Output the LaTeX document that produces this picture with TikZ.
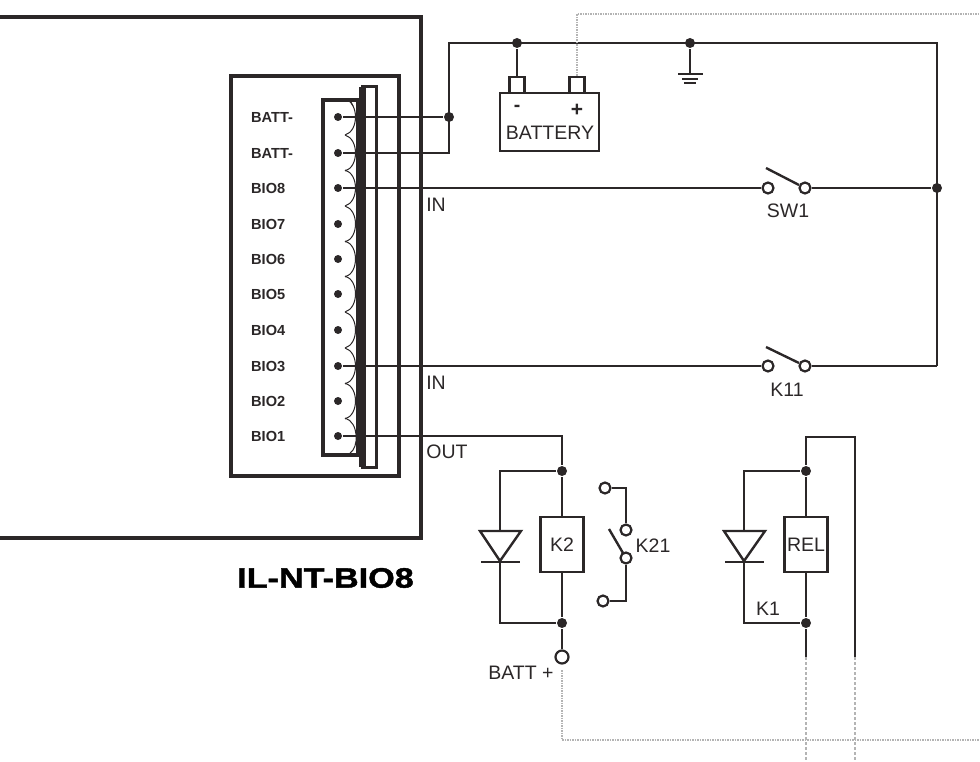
\documentclass[tikz,border=0pt]{standalone}
\usepackage{fontspec}
\setmainfont{Liberation Sans}
\newfontfamily\widefont[FakeStretch=1.22,BoldFeatures={FakeBold=1.5}]{Liberation Sans}
\definecolor{wirecol}{HTML}{2B2728}
\definecolor{dotcol}{HTML}{B4B4B4}

\begin{document}
\begin{tikzpicture}[x=1pt,y=-1pt,wirecol,line width=2.4pt]
\tikzset{heavy/.style = {line width=4pt},
         wire/.style = {line width=2.4pt,line join=miter},
         dotline/.style = {dotcol,line width=1.5pt,densely dotted},
         dashline/.style = {dotcol,line width=1.5pt,densely dashed},
         dotnode/.style = {circle,fill=wirecol,inner sep=0pt,minimum size=10pt},
         pin/.style = {circle,fill=wirecol,inner sep=0pt,minimum size=8pt},
         open/.style = {draw,circle,fill=white,inner sep=0pt,minimum size=11pt,line width=2.2pt},
         openbig/.style = {open,minimum size=13pt},
         box/.style = {draw,rectangle,fill=white,inner sep=0pt,line width=2.2pt},
         txt/.style = {inner sep=0pt,text=wirecol,font=\fontsize{19.5}{22}\selectfont},
         pinlab/.style = {inner sep=0pt,anchor=west,text=wirecol,font=\fontsize{14.6}{16}\selectfont\bfseries}}
\useasboundingbox (0,0) rectangle (980,762);

% module outline
\draw[heavy] (0,17) -- (421,17) -- (421,538) -- (0,538);
\draw[heavy] (231,76) rectangle (399,476);
\draw[heavy] (323,100) rectangle (358,455);
\draw[line width=3pt] (362,87) rectangle (376,467);
\draw[line width=7pt] (362,87) -- (362,467);

% scallops of the terminal block
\foreach \y in {117,153,188,224,259,294,330,366,401}
  \draw[line width=1pt] (345,\y+18) .. controls (359,\y+14) and (359,\y-14) .. (345,\y-18);
\draw[line width=1pt] (345,418) .. controls (359,422) and (359,448) .. (350,453);
\draw[line width=1pt] (350,100) -- (353,106);

% terminals
\foreach \y/\nm/\lab in {117/ta/BATT-,153/tb/BATT-,188/tc/BIO8,224/td/BIO7,259/te/BIO6,
                         294/tf/BIO5,330/tg/BIO4,366/th/BIO3,401/ti/BIO2,436/tj/BIO1}{
  \node[pin] (\nm) at (338,\y) {};
  \node[pinlab] at (250,\y) {\lab};
}

% supply
\node[dotnode] (jbatt) at (449,117) {};
\node[dotnode] (jneg) at (517,43) {};
\node[dotnode] (jgnd) at (690,43) {};
\node[dotnode] (jright) at (937,188) {};
\coordinate (tl) at (449,43);
\coordinate (tr) at (937,43);
\coordinate (br) at (937,366);
\coordinate (gnd) at (690,74);
\node[box,minimum width=99pt,minimum height=58pt] (batt) at (549.5,122) {};
\node[box,minimum width=15pt,minimum height=16pt] (bneg) at (517,85) {};
\node[box,minimum width=15pt,minimum height=16pt] (bpos) at (577,85) {};
\node[txt] at (550,133) {\fontsize{19.5}{20}\selectfont BATTERY};
\node[txt] at (517,108) {\bfseries -};
\node[txt] at (577,110) {\fontsize{21}{22}\selectfont\bfseries +};

\draw[wire] (ta) -- (jbatt);
\draw[wire] (tb) -| (tl) -- (tr) -- (br);
\draw[wire] (jbatt) -- (tl);
\draw[wire] (jneg) -- (bneg);
\draw[wire] (jgnd) -- (gnd);
\draw[wire] (678,74) -- (703,74);
\draw[wire] (682,79) -- (698,79);
\draw[wire] (684,83) -- (696,83);

% inputs
\node[open] (swa) at (768,188) {};
\node[open] (swb) at (805,188) {};
\node[open] (ka) at (768,366) {};
\node[open] (kb) at (805,366) {};
\coordinate (swtip) at (766,168);
\coordinate (swend) at (799,185);
\coordinate (ktip) at (766,347);
\coordinate (kend) at (799,363);
\draw[wire] (tc) -- (swa);
\draw[wire] (swb) -- (jright);
\draw[wire] (swtip) -- (swend);
\draw[wire] (th) -- (ka);
\draw[wire] (kb) -- (br);
\draw[wire] (ktip) -- (kend);
\node[txt] at (788,211) {SW1};
\node[txt] at (787,390) {K11};
\node[txt] at (436,205) {IN};
\node[txt] at (436,383) {IN};
\node[txt] at (447,452) {OUT};

% relay K2
\node[dotnode] (jka) at (562,471) {};
\node[dotnode] (jkb) at (562,623) {};
\node[box,minimum width=43pt,minimum height=55pt] (kbox) at (562,544.5) {};
\node[txt] at (562,545) {K2};
\node[openbig] (battp) at (562,657) {};
\coordinate (dka) at (500,531);
\coordinate (dkb) at (500,562);
\draw[wire] (tj) -| (jka);
\draw[wire] (jka) -- (kbox);
\draw[wire] (kbox) -- (jkb);
\draw[wire] (jkb) -- (battp);
\draw[wire] (jka) -| (dka);
\draw[wire] (dkb) |- (jkb);
\draw[wire] (480,531) -- (521,531) -- (500,561) -- cycle;
\draw[wire] (481,562) -- (520,562);
\node[txt] at (521,673) {BATT +};

% contact K21
\node[open] (cna) at (605,488) {};
\node[open] (cnb) at (626,530) {};
\node[open] (cnc) at (626,558) {};
\node[open] (cnd) at (603,601) {};
\coordinate (cntip) at (609,529);
\coordinate (cnend) at (623,553);
\draw[wire] (cna) -| (cnb);
\draw[wire] (cnc) |- (cnd);
\draw[wire] (cntip) -- (cnend);
\node[txt] at (653,546) {K21};

% relay K1
\node[dotnode] (jra) at (806,471) {};
\node[dotnode] (jrb) at (806,623) {};
\node[box,minimum width=43pt,minimum height=55pt] (rbox) at (806,544.5) {};
\node[txt] at (806,545) {REL};
\coordinate (rtl) at (806,437);
\coordinate (rtr) at (855,437);
\coordinate (rbl) at (806,657);
\coordinate (rbr) at (855,657);
\coordinate (dra) at (744,531);
\coordinate (drb) at (744,562);
\draw[wire] (jra) -- (rtl) -- (rtr) -- (rbr);
\draw[wire] (jra) -- (rbox);
\draw[wire] (rbox) -- (jrb);
\draw[wire] (jrb) -- (rbl);
\draw[wire] (jra) -| (dra);
\draw[wire] (drb) |- (jrb);
\draw[wire] (724,531) -- (765,531) -- (744,561) -- cycle;
\draw[wire] (725,562) -- (764,562);
\node[txt] at (768,609) {K1};

% field wiring
\coordinate (fa) at (577,14);
\coordinate (fb) at (980,14);
\coordinate (fc) at (562,670);
\coordinate (fd) at (562,740);
\coordinate (fe) at (980,740);
\coordinate (ff) at (806,762);
\coordinate (fg) at (855,762);
\draw[dotline] (bpos) -- (fa) -- (fb);
\draw[dotline] (fc) -- (fd) -- (fe);
\draw[dashline] (rbl) -- (ff);
\draw[dashline] (rbr) -- (fg);

\node[inner sep=0pt,text=black,font=\fontsize{28}{30}\selectfont\widefont\bfseries] at (325.5,578) {IL-NT-BIO8};
\end{tikzpicture}
\end{document}
